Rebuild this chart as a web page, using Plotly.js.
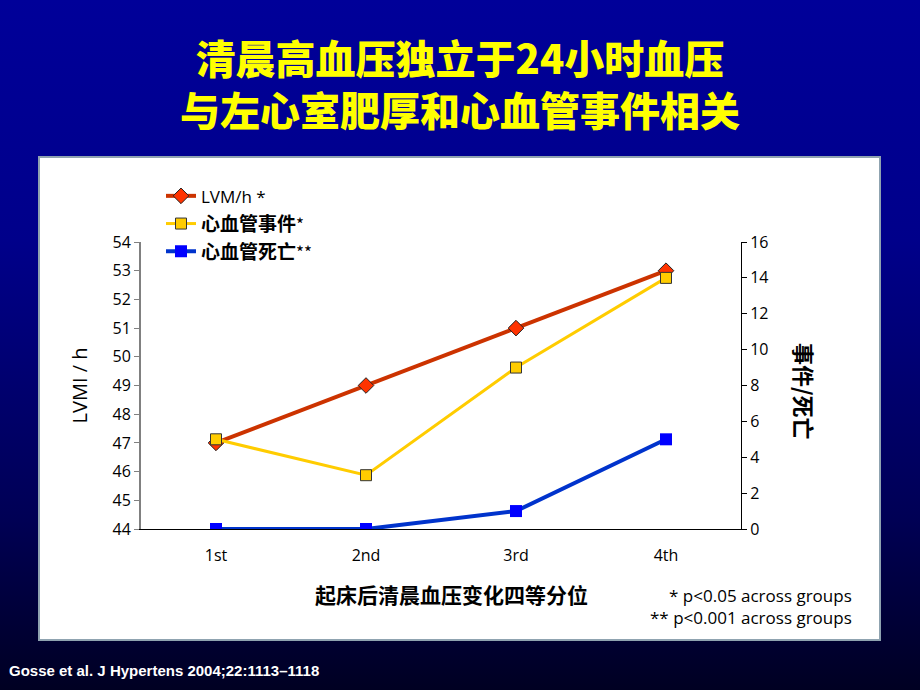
<!DOCTYPE html>
<html><head><meta charset="utf-8">
<script src="https://cdn.plot.ly/plotly-3.0.1.min.js"></script>
<style>
html,body{margin:0;padding:0;width:920px;height:690px;overflow:hidden;
background:linear-gradient(to bottom,#000099 0%,#00008a 35%,#000055 75%,#000022 100%);}
#chart{width:920px;height:690px;}
</style></head>
<body><div id="chart"></div>
<script>
const categories = ['1st', '2nd', '3rd', '4th'];
const lvmValues = [47, 49, 51, 53];
const eventValues = [5, 3, 9, 14];
const deathValues = [0, 0, 1, 5];
const leftTicks = [44, 45, 46, 47, 48, 49, 50, 51, 52, 53, 54];
const rightTicks = [0, 2, 4, 6, 8, 10, 12, 14, 16];

const cjk = '"Noto Sans CJK SC", "Noto Sans", sans-serif';
const sans = '"Open Sans", "Noto Sans", sans-serif';

const traces = [
  {x: categories, y: lvmValues, name: '<span style="font-family:\'Open Sans\';font-size:17px">LVM/h *</span>',
   type: 'scatter', mode: 'lines+markers',
   line: {color: '#cc3300', width: 4},
   marker: {symbol: 'diamond', size: 12, color: '#ff3300', line: {color: '#222', width: 1}}},
  {x: categories, y: eventValues, name: '<b>心血管事件</b><span style="font-size:17px">*</span>',
   type: 'scatter', mode: 'lines+markers', yaxis: 'y2',
   line: {color: '#ffcc00', width: 3},
   marker: {symbol: 'square', size: 11, color: '#ffcc00', line: {color: '#333', width: 1}}},
  {x: categories, y: deathValues, name: '<b>心血管死亡</b><span style="font-size:17px">**</span>',
   type: 'scatter', mode: 'lines+markers', yaxis: 'y2',
   line: {color: '#0033cc', width: 4},
   marker: {symbol: 'square', size: 12, color: '#0000ff', line: {width: 0}}}
];

// plot area: x 141..741, y 242..529
const pl = 141, pr = 741, pt = 242, pb = 529;
const W = pr - pl, H = pb - pt;
const px = v => (v - pl) / W;
const py = v => (pb - v) / H;

const titleFont = {family: cjk, size: 40, color: '#ffff00', weight: 900};

const layout = {
  width: 920, height: 690,
  margin: {l: pl, r: 920 - pr, t: pt, b: 690 - pb},
  paper_bgcolor: 'rgba(0,0,0,0)',
  plot_bgcolor: 'rgba(0,0,0,0)',
  showlegend: true,
  legend: {x: px(161), y: py(177), xanchor: 'left', yanchor: 'top', bgcolor: 'rgba(0,0,0,0)',
           font: {family: cjk, size: 19, color: '#000'}, tracegroupgap: 0, itemwidth: 30},
  xaxis: {type: 'category', range: [-0.5, 3.5], showline: true, linecolor: '#000', linewidth: 1,
          ticks: '', showgrid: false, zeroline: false,
          tickfont: {family: sans, size: 16, color: '#000'}, ticklabelstandoff: 12,
          fixedrange: true},
  yaxis: {range: [44, 54], tickvals: leftTicks, showline: true, linecolor: '#808080', linewidth: 2,
          ticks: 'outside', ticklen: 5, tickcolor: '#808080', showgrid: false, zeroline: false,
          tickfont: {family: sans, size: 16, color: '#000'},
          title: {text: 'LVMI / h', font: {family: sans, size: 20, color: '#000'}, standoff: 20}},
  yaxis2: {range: [0, 16], tickvals: rightTicks, overlaying: 'y', side: 'right', showline: true,
           linecolor: '#000', linewidth: 1, ticks: 'outside', ticklen: 5, tickcolor: '#000',
           showgrid: false, zeroline: false,
           tickfont: {family: sans, size: 16, color: '#000'}},
  shapes: [
    {type: 'rect', xref: 'paper', yref: 'paper', layer: 'below',
     x0: px(39), x1: px(880), y0: py(640), y1: py(157),
     fillcolor: '#ffffff', line: {color: '#8fa3b0', width: 2}}
  ],
  annotations: [
    {text: '清晨高血压独立于24小时血压<br>与左心室肥厚和心血管事件相关', xref: 'paper', yref: 'paper',
     x: px(460), y: py(83), xanchor: 'center', yanchor: 'middle', showarrow: false, font: titleFont},
    {text: '<b>事件/死亡</b>', xref: 'paper', yref: 'paper', x: px(805), y: py(391),
     xanchor: 'center', yanchor: 'middle',
     showarrow: false, textangle: 90, font: {family: cjk, size: 22, color: '#000'}},
    {text: '<b>起床后清晨血压变化四等分位</b>', xref: 'paper', yref: 'paper', x: px(451), y: py(594),
     xanchor: 'center', yanchor: 'middle',
     showarrow: false, font: {family: cjk, size: 21, color: '#000'}},
    {text: '* p<0.05 across groups<br>** p<0.001 across groups', xref: 'paper', yref: 'paper',
     x: px(854), y: py(606.5), xanchor: 'right', yanchor: 'middle', align: 'right',
     showarrow: false, font: {family: sans, size: 17, color: '#000'}},
    {text: '<b>Gosse et al. J Hypertens 2004;22:1113–1118</b>', xref: 'paper', yref: 'paper',
     x: px(7), y: py(670), xanchor: 'left', yanchor: 'middle', showarrow: false,
     font: {family: '"Liberation Sans", Arial, sans-serif', size: 15, color: '#ffffff'}}
  ]
};

Plotly.newPlot('chart', traces, layout, {displayModeBar: false, staticPlot: true});
</script></body></html>
